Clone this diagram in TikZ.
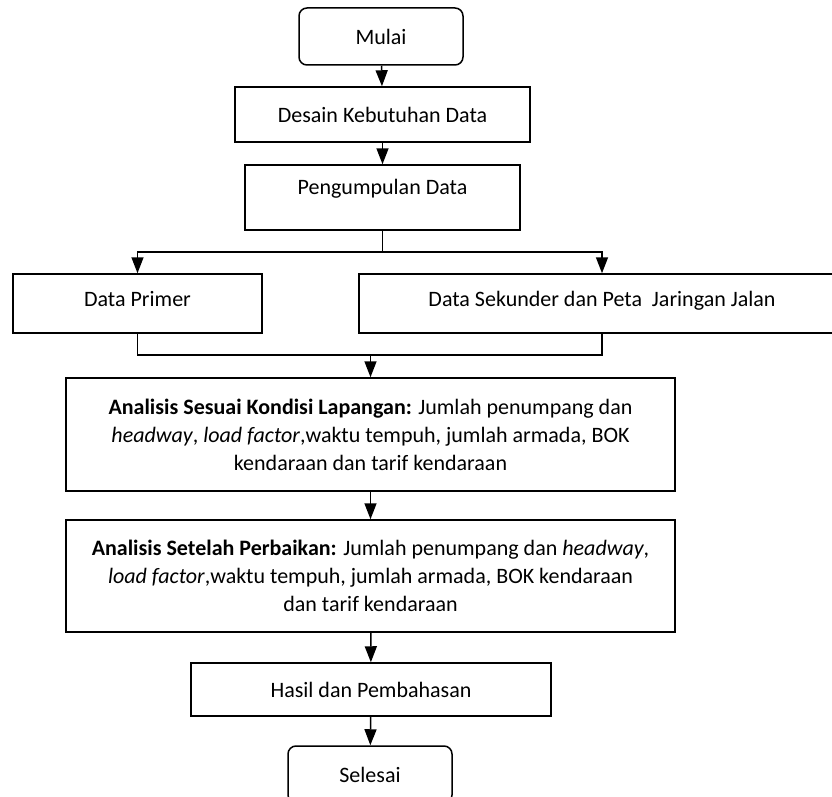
\documentclass[tikz,border=0pt]{standalone}
\usepackage{fontspec}
\setmainfont{Carlito}
\usetikzlibrary{arrows.meta}

\begin{document}
\begin{tikzpicture}[x=1pt, y=-1pt, line width=1.5pt,
      font=\fontsize{22}{28}\selectfont,
      box/.style={rectangle, draw, align=center, inner sep=0pt},
      term/.style={box, rounded corners=8pt, minimum width=164pt, minimum height=57pt},
      arr/.style={-{Triangle[length=16pt, width=12pt]}}]
      \useasboundingbox (0,0) rectangle (832,797);

      \node[term] (mulai) at (381,36.5) {Mulai};
      \node[box, minimum width=295pt, minimum height=55pt] (desain) at (382.5,114.5) {Desain Kebutuhan Data};
      \node[box, minimum width=275pt, minimum height=65pt, text height=15pt, text depth=21pt] (kumpul) at (382.5,197.5) {Pengumpulan Data};
      \node[box, minimum width=249pt, minimum height=59pt, text height=15pt, text depth=9pt] (primer) at (137.5,303.5) {Data Primer};
      \node[box, minimum width=486pt, minimum height=59pt, text height=15pt, text depth=9pt] (sekunder) at (602,303.5) {Data Sekunder dan Peta\ \ Jaringan Jalan};
      \node[box, minimum width=609pt, minimum height=113pt] (sesuai) at (370.5,434.5)
        {\textbf{Analisis Sesuai Kondisi Lapangan:} Jumlah penumpang dan\\
         \textit{headway}, \textit{load factor},waktu tempuh, jumlah armada, BOK\\
         kendaraan dan tarif kendaraan};
      \node[box, minimum width=609pt, minimum height=112pt] (setelah) at (370.5,576)
        {\textbf{Analisis Setelah Perbaikan:} Jumlah penumpang dan \textit{headway},\\
         \textit{load factor},waktu tempuh, jumlah armada, BOK kendaraan\\
         dan tarif kendaraan};
      \node[box, minimum width=360pt, minimum height=53pt] (hasil) at (371,689.5) {Hasil dan Pembahasan};
      \node[term] (selesai) at (370,774.5) {Selesai};

      \coordinate (split) at (382.5,252);
      \coordinate (join) at (370.5,355);

      \draw[arr] (mulai) -- (desain);
      \draw[arr] (desain) -- (kumpul);
      \draw (kumpul) -- (split);
      \draw[arr] (split) -| (primer);
      \draw[arr] (split) -| (sekunder);
      \draw (primer) |- (join) -| (sekunder);
      \draw[arr] (join) -- (sesuai);
      \draw[arr] (sesuai) -- (setelah);
      \draw[arr] (setelah) -- (hasil);
      \draw[arr] (hasil) -- (selesai);
    \end{tikzpicture}
\end{document}
